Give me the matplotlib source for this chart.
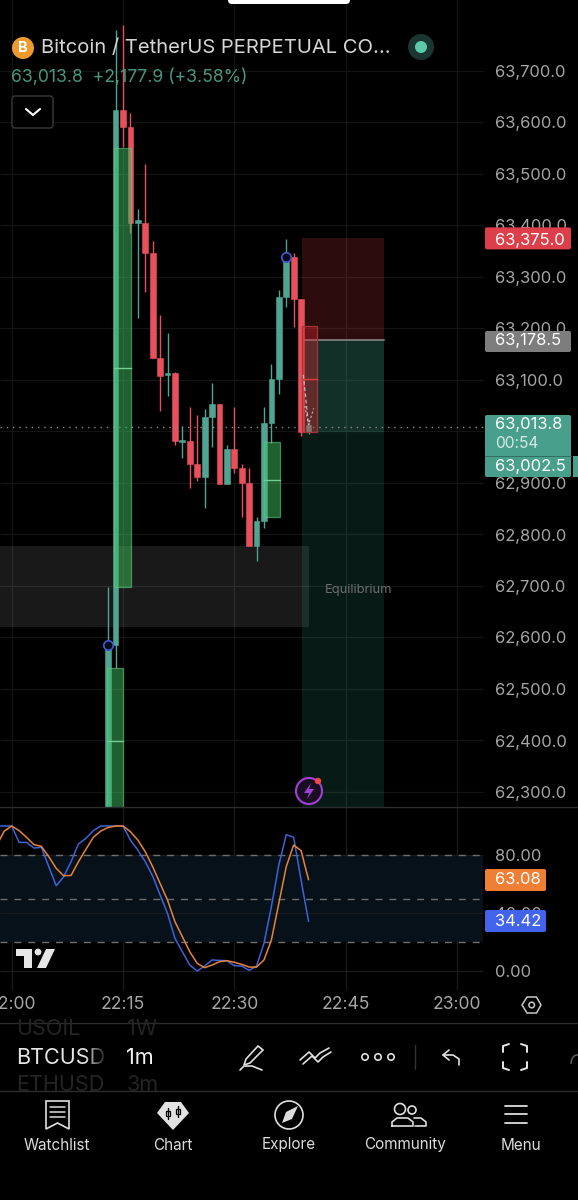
import matplotlib
matplotlib.use('Agg')
import matplotlib.pyplot as plt
import numpy as np
from matplotlib.patches import Circle, FancyBboxPatch, Polygon, Rectangle, Arc

plt.rcParams['font.family'] = ['Inter', 'DejaVu Sans']

W, H = 578, 1200
GREEN = '#4fa592'
RED = '#e8505b'
TICK = 11.9

# candles, minutes after 22:00
minutes = list(range(13, 41))
opens = [62250, 62586, 63624, 63591, 63405, 63405, 63347, 63143, 63110, 63114, 62980, 62982, 62937, 62912,
         63028, 63053, 62898, 62966, 62929, 62900, 62778, 62826, 63016, 63102, 63261, 63339, 63257, 62999]
highs = [62698, 63780, 63789, 63618, 63432, 63519, 63370, 63226, 63191, 63116, 63011, 63048, 63032, 63044,
         63094, 63053, 62974, 63048, 62937, 62929, 62834, 63048, 63131, 63275, 63374, 63347, 63257, 63018]
lows = [62240, 62541, 63552, 63385, 63220, 63271, 63143, 63040, 63069, 62974, 62949, 62890, 62904, 62851,
        62970, 62898, 62898, 62919, 62834, 62778, 62749, 62813, 62978, 63073, 63242, 63203, 62991, 62995]
closes = [62586, 63624, 63591, 63405, 63410, 63347, 63143, 63108, 63114, 62982, 62984, 62937, 62912, 63028,
          63053, 62898, 62966, 62929, 62900, 62778, 62826, 63016, 63102, 63261, 63339, 63257, 62999, 63013]

# stochastic oscillator
osc_minutes = list(range(-2, 41))
k_line = [100, 100, 100, 88.7, 88.7, 84.8, 85.3, 71.9, 58.8, 65.0, 75.4, 87.6, 91.5, 96.8, 100, 100, 100, 100,
          90.3, 83.4, 75.4, 65.5, 52.4, 39.8, 22.5, 13.3, 4.1, 0, 3.4, 7.6, 7.3, 7.1, 3.7, 3.4, 0.4, 3.4,
          19.1, 44.4, 73.1, 94, 92.2, 62.7, 34.42]
d_line = [86.9, 96.5, 100, 96.8, 92.2, 87.1, 86, 78.8, 70.8, 65.7, 65.9, 75.4, 83.9, 92.2, 96.5, 99, 100, 100,
          96.1, 90.3, 82.3, 71.9, 60.4, 48.9, 34, 23.7, 13.3, 5.3, 2.3, 4.1, 6.4, 7.1, 6, 4.6, 2.7, 2.7,
          7.6, 21.4, 46.6, 71.9, 86.9, 83, 63.08]

price_ticks = list(range(62300, 63800, 100))
osc_ticks = [0, 40, 80]
time_ticks = [0, 15, 30, 45, 60]
time_labels = ['22:00', '22:15', '22:30', '22:45', '23:00']

# drawn boxes: left, right, low, mid, high
green_boxes = [(12.9, 15.05, 62250, 62399, 62541),
               (13.8, 16.1, 62698, 63123, 63550),
               (34.0, 36.15, 62834, 62906, 62980)]
red_box = (39.1, 41.15, 62999, 63102, 63205)

stop_price = 63375.0
entry_price = 63178.5
last_price = 63013.8
line_price = 63008
target_price = 62250

eq_low, eq_high = 62621, 62778


def to_minute(px):
    return 15 + (px - 123) / 7.42


def to_price(py):
    return 63700 - (py - 71) / 0.515


def to_y(price):
    return 71 + (63700 - price) * 0.515


fig = plt.figure(figsize=(W / 100, H / 100), dpi=100, facecolor='black')
grid_end = to_minute(483)

# main price pane
ax = fig.add_axes([0, 1 - 807 / H, 1, 807 / H], facecolor='black')
ax.set_xlim(to_minute(0), to_minute(W))
ax.set_ylim(to_price(807), to_price(0))
ax.set_axisbelow(True)
ax.grid(True, axis='x', color='#141414', lw=0.9)
ax.hlines(price_ticks, to_minute(0), grid_end, color='#141414', lw=0.9, zorder=0.6)
ax.set_xticks(time_ticks)
ax.set_yticks(price_ticks)
ax.set_yticklabels([f'{p:,.1f}' for p in price_ticks], fontsize=TICK, color='#a6a6a6')
ax.tick_params(axis='y', length=0, right=False, left=False, labelleft=False, labelright=True, pad=-59.8)
ax.tick_params(axis='x', length=0, labelbottom=False)
for s in ax.spines.values():
    s.set_visible(False)

# equilibrium zone
ax.fill_between([to_minute(0), 40.05], eq_low, eq_high, color='white', alpha=0.1, lw=0, zorder=1)
ax.text(to_minute(359), to_price(590.5), 'Equilibrium', color='#6d6d6d', fontsize=9.3, ha='center', va='center', zorder=2)

# long position
pos_l, pos_r = 39.1, 50.2
ax.fill_between([pos_l, pos_r], entry_price, stop_price, color='#d43c3c', alpha=0.21, lw=0, zorder=1)
ax.fill_between([pos_l, pos_r], target_price, entry_price, color='#2fa082', alpha=0.17, lw=0, zorder=1)
ax.fill_between([pos_l, pos_r], closes[-2], entry_price, color='#4f9f88', alpha=0.17, lw=0, zorder=1)
ax.plot([pos_l, pos_r], [entry_price, entry_price], color='#8d8d8d', lw=1.1, zorder=2)

# candles
for m, o, h, l, c in zip(minutes, opens, highs, lows, closes):
    col = GREEN if c >= o else RED
    ax.plot([m, m], [l, h], color=col, lw=1.0, zorder=3, solid_capstyle='butt')
    ax.bar(m, abs(c - o), bottom=min(o, c), width=0.78, color=col, lw=0.4, edgecolor=col, zorder=3)

# last price line
ax.plot([to_minute(0), to_minute(483)], [line_price, line_price], color='#8a8a8a', lw=1, ls=(0, (1, 3.5)), zorder=4)

# boxes
for left, right, low, mid, high in green_boxes:
    ax.add_patch(Rectangle((left, low), right - left, high - low, fc=(0.25, 0.75, 0.37, 0.5), ec=(0.39, 0.78, 0.52, 0.6), lw=0.9, zorder=5))
    ax.plot([left, right], [mid, mid], color='#6fd092', lw=1, zorder=5)
left, right, low, mid, high = red_box
ax.add_patch(Rectangle((left, low), right - left, high - low, fc=(0.85, 0.15, 0.18, 0.38), ec='#a5333a', lw=0.9, zorder=5))
ax.plot([left, right], [mid, mid], color='#e03a40', lw=1, zorder=5)

# dashed arrow of the drawing
ax.plot([39.3, 40], [63110, 63013], color='#c9b6b6', lw=0.9, ls=(0, (3, 2)), zorder=6)
ax.plot([39.5, 40, 40.7], [63050, 63013, 63045], color='#c9b6b6', lw=0.8, ls=(0, (2, 2)), zorder=6)

# pivots
ax.scatter([13, 37], [62586, 63339], s=46, facecolor='#05081a', edgecolor='#3f5bd0', lw=1.2, zorder=7)

# oscillator pane
osc = fig.add_axes([0, 1 - 990 / H, 1, (990 - 807) / H], facecolor='black')
osc.set_xlim(to_minute(0), to_minute(W))
osc.set_ylim((971 - 990) / 1.45, (971 - 807) / 1.45)
osc.set_axisbelow(True)
osc.grid(True, axis='x', color='#1b1b1b', lw=0.9)
osc.set_xticks(time_ticks)
osc.set_xticklabels(time_labels, fontsize=12.6, color='#a6a6a6')
osc.set_yticks(osc_ticks)
osc.set_yticklabels([f'{v:.2f}' for v in osc_ticks], fontsize=TICK, color='#a6a6a6')
osc.tick_params(axis='y', length=0, left=False, right=False, labelleft=False, labelright=True, pad=-59.8)
osc.tick_params(axis='x', length=0, pad=4.5)
for s in osc.spines.values():
    s.set_visible(False)
osc.fill_between([to_minute(0), grid_end], 20, 80, color='#07111a', lw=0, zorder=1)
osc.hlines(osc_ticks, to_minute(0), grid_end, color='#1b1b1b', lw=0.9, zorder=1.5)
for level in [20, 50, 80]:
    osc.plot([to_minute(0), grid_end], [level, level], color='#6e6e6e', lw=1, ls=(0, (5, 5)), zorder=2)
osc.plot(osc_minutes, k_line, color='#3f62d8', lw=1.1, zorder=4)
osc.plot(osc_minutes, d_line, color='#e8843a', lw=1.1, zorder=5)

# chrome on top, pixel coordinates
ui = fig.add_axes([0, 0, 1, 1], facecolor='none')
ui.axis('off')


def tag(y0, y1, color, x0=485, x1=571):
    ui.add_patch(FancyBboxPatch((x0 + 2, y0 + 2), x1 - x0 - 4, y1 - y0 - 4, boxstyle='round,pad=2', fc=color, ec='none', zorder=3))


def label(x, y, s, size=TICK, color='white', ha='left', **kw):
    return ui.text(x, y, s, fontsize=size, color=color, ha=ha, va='center', zorder=4, **kw)


def line(xs, ys, color='#dddddd', lw=1.2):
    ui.plot(xs, ys, color=color, lw=lw, solid_capstyle='round', solid_joinstyle='round', zorder=4)


# price tags
tag(to_y(stop_price) - 11, to_y(stop_price) + 11, '#dc3f49')
label(495, 240, f'{stop_price:,.1f}', color='white')
tag(331, 352, '#7d7d7d')
label(495, 341, f'{entry_price:,.1f}', color='white')
tag(415, 477, '#48a08c')
line([485, 571], [456, 456], color='#2f6f62', lw=0.7)
label(495, 425, f'{last_price:,.1f}', color='white')
label(495, 443, '00:54', size=11.2, color='#d8e8e4')
label(495, 466, '63,002.5', color='white')
ui.add_patch(Rectangle((573, 456), 5, 21, fc='#48a08c', ec='none', zorder=3))
tag(869, 891, '#ee7f35', x0=485, x1=546)
label(495, 880, f'{d_line[-1]:.2f}')
tag(910, 932, '#4263ec', x0=485, x1=546)
label(495, 921, f'{k_line[-1]:.2f}')

# header
ui.add_patch(Circle((23, 48), 11, fc='#ef9a2f', ec='none', zorder=3))
label(23, 48, 'B', size=10.5, ha='center', weight='bold')
label(41, 48, 'Bitcoin / TetherUS PERPETUAL CO...', size=14.5, color='#d6d6d6')
label(11, 77, '63,013.8  +2,177.9 (+3.58%)', size=12.7, color='#4a9580')
ui.add_patch(Circle((421, 47), 13, fc='#1b3530', ec='none', zorder=3))
ui.add_patch(Circle((421, 47), 6, fc='#5cc9a8', ec='none', zorder=4))
ui.add_patch(FancyBboxPatch((15, 99), 35, 26, boxstyle='round,pad=3', fc='black', ec='#3a3a3a', lw=1, zorder=3))
line([26, 33, 40], [109, 115, 109], color='white', lw=1.5)
ui.add_patch(FancyBboxPatch((232, -8), 114, 8, boxstyle='round,pad=4', fc='white', ec='none', zorder=3))

# lightning badge
ui.add_patch(Circle((309, 791), 13, fc='#1a0d22', ec='#a23fd6', lw=1.5, zorder=3))
ui.add_patch(Polygon([(311, 783), (304, 793), (309, 793), (307, 799), (314, 789), (309, 789)], fc='#a23fd6', ec='none', zorder=4))
ui.add_patch(Circle((318, 781), 3.2, fc='#f04848', ec='none', zorder=4))

# logo
ui.add_patch(Polygon([(16, 949), (32, 949), (32, 968), (24, 968), (24, 956), (16, 956)], fc='#e6e6e6', ec='none', zorder=3))
ui.add_patch(Circle((38, 952), 3.4, fc='#e6e6e6', ec='none', zorder=3))
ui.add_patch(Polygon([(46, 949), (55, 949), (46, 968), (37, 968)], fc='#e6e6e6', ec='none', zorder=3))

# separators
line([0, W], [807, 807], color='#2c2c2c', lw=1)
line([0, W], [1022.5, 1022.5], color='#2c2c2c', lw=1)
line([0, W], [1090.5, 1090.5], color='#2c2c2c', lw=1)

# gear
ui.add_patch(Polygon([(522, 1005), (527, 997), (536.5, 997), (541, 1005), (536.5, 1013), (527, 1013)], fc='none', ec='#c8c8c8', lw=1.1, zorder=4))
ui.add_patch(Circle((531.7, 1005), 2.8, fc='none', ec='#c8c8c8', lw=1.1, zorder=4))

# toolbar, the picker rows are cut off by the separators
picker_clip = Rectangle((0, 1023), W, 67, transform=ui.transData)
for x, y, s, col in [(16, 1029, 'USOIL', '#242424'), (127, 1029, '1W', '#242424'),
                     (16, 1085, 'ETHUSD', '#242424'), (127, 1085, '3m', '#242424')]:
    t = label(x, y, s, size=15.6, color=col)
    t.set_clip_path(picker_clip)
label(16, 1058, 'BTCUSD', size=15.6, color='#e6e6e6')
label(126, 1058, '1m', size=15.6, color='#f2f2f2')
fade = np.zeros((1, 32, 4))
fade[0, :, 3] = np.linspace(0, 1, 32)
ui.imshow(fade, extent=(84, 108, 1072, 1044), aspect='auto', zorder=4.5, interpolation='bilinear')

ui.add_patch(Polygon([(258, 1046), (263, 1050), (250, 1063), (244, 1065), (246, 1059)], fc='none', ec='#e0e0e0', lw=1.2, zorder=4))
line([240, 244, 252, 262], [1070, 1066, 1066, 1070], color='#e0e0e0')
line([300, 309, 315, 320, 329], [1060, 1052, 1058, 1053, 1048], color='#e0e0e0')
line([303, 312, 318, 323, 331], [1064, 1056, 1062, 1057, 1052], color='#e0e0e0')
for cx in [365, 378, 391]:
    ui.add_patch(Circle((cx, 1057), 3.2, fc='none', ec='#e0e0e0', lw=1.2, zorder=4))
line([415, 415], [1045, 1069], color='#333333', lw=1)
line([449, 443, 449], [1050, 1055, 1060], color='#e0e0e0')
line([443, 453, 459, 459], [1055, 1055, 1059, 1065], color='#e0e0e0')
for xs, ys in [([503, 503, 509], [1052, 1046, 1044]), ([521, 527, 527], [1044, 1046, 1052]),
               ([503, 503, 509], [1062, 1068, 1070]), ([521, 527, 527], [1070, 1068, 1062])]:
    line(xs, ys, color='#e8e8e8', lw=1.4)
ui.add_patch(Arc((577, 1064), 12, 18, theta1=180, theta2=280, color='#555555', lw=1.2, zorder=4))

# bottom nav
nav_names = ['Watchlist', 'Chart', 'Explore', 'Community', 'Menu']
nav_x = [57, 173, 289, 405, 521]
for name, x in zip(nav_names, nav_x):
    label(x, 1145, name, size=11, color='#dcdcdc', ha='center')

ui.add_patch(Polygon([(46, 1101), (69, 1101), (69, 1129), (57.5, 1123), (46, 1129)], fc='none', ec='#e0e0e0', lw=1.2, zorder=4))
for y in [1107, 1112, 1117]:
    line([50, 65], [y, y], lw=1.1)

ui.add_patch(Polygon([(157, 1113), (165, 1102), (181, 1102), (189, 1113), (173, 1130)], fc='#e2e2e2', ec='none', zorder=4))
for cx, y0, y1 in [(168, 1108, 1119), (178, 1106, 1117)]:
    line([cx, cx], [y0, y1], color='black', lw=1)
    ui.add_patch(Rectangle((cx - 2, y0 + 3), 4, 5, fc='none', ec='black', lw=0.9, zorder=5))

ui.add_patch(Circle((289, 1115), 14, fc='none', ec='#e0e0e0', lw=1.2, zorder=4))
ui.add_patch(Polygon([(298, 1106), (292, 1119), (282, 1123), (286, 1112)], fc='#dcdcdc', ec='none', zorder=4))

ui.add_patch(Circle((400, 1109), 5.5, fc='none', ec='#e0e0e0', lw=1.2, zorder=4))
ui.add_patch(Circle((412, 1110), 4, fc='none', ec='#e0e0e0', lw=1.2, zorder=4))
line([392, 392, 397, 408, 413, 413, 392], [1126, 1122, 1118, 1118, 1122, 1126, 1126])
line([414, 421, 426, 426, 415], [1118, 1118, 1122, 1126, 1126])

for y in [1106, 1114, 1123]:
    line([505, 527], [y, y], lw=1.3)

ui.set_xlim(0, W)
ui.set_ylim(H, 0)

fig.savefig('out.png', dpi=100, facecolor='black')
